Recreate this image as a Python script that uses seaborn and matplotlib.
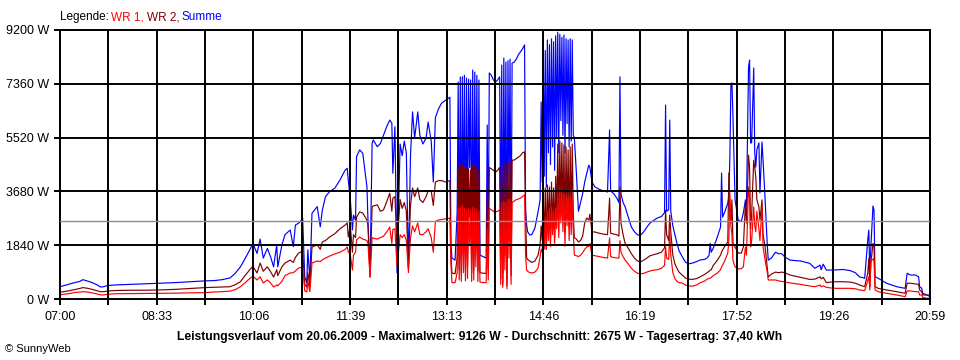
import matplotlib
matplotlib.use("Agg")
import matplotlib.pyplot as plt
import seaborn as sns
import numpy as np
import pandas as pd

# minutes after 07:00
minutes = [
    0, 5, 10, 14, 19, 22, 26, 31, 36, 39,
    42, 46, 53, 68, 82, 96, 111, 125, 140, 149,
    156, 164, 169, 174, 178, 183, 186, 190, 193, 196,
    200, 203, 206, 209, 210, 214, 217, 222, 225, 227,
    230, 233, 234, 236, 238, 239, 241, 243, 248, 251,
    253, 256, 260, 265, 270, 275, 277, 278, 280, 282,
    283, 285, 286, 289, 292, 296, 297, 299, 301, 302,
    306, 309, 312, 315, 318, 320, 321, 323, 325, 328,
    330, 332, 334, 336, 338, 340, 342, 345, 347, 350,
    353, 355, 358, 360, 362, 365, 368, 372, 376, 377,
    378, 381, 383, 384, 385, 386, 387, 388, 389, 390,
    391, 392, 393, 394, 395, 396, 397, 398, 399, 400,
    401, 402, 403, 404, 405, 408, 411, 412, 413, 414,
    416, 418, 420, 422, 424, 425, 426, 427, 428, 429,
    430, 431, 432, 433, 434, 435, 436, 438, 440, 442,
    444, 446, 448, 449, 450, 451, 453, 455, 458, 461,
    463, 464, 465, 466, 467, 468, 469, 470, 471, 472,
    473, 474, 475, 476, 477, 478, 479, 480, 481, 482,
    483, 484, 485, 486, 487, 488, 489, 490, 491, 492,
    493, 494, 495, 496, 498, 500, 502, 504, 506, 508,
    510, 511, 513, 516, 520, 524, 528, 530, 531, 534,
    537, 539, 540, 541, 543, 545, 548, 551, 554, 557,
    560, 563, 566, 569, 573, 576, 580, 583, 584, 585,
    587, 588, 589, 591, 593, 595, 597, 600, 603, 606,
    610, 614, 617, 622, 624, 626, 627, 628, 630, 634,
    637, 638, 639, 641, 644, 645, 646, 647, 648, 649,
    650, 651, 654, 657, 659, 661, 662, 664, 665, 666,
    667, 669, 670, 671, 672, 674, 675, 677, 678, 680,
    682, 683, 686, 690, 693, 696, 699, 704, 714, 723,
    728, 733, 734, 736, 739, 746, 755, 762, 767, 771,
    776, 779, 780, 781, 782, 784, 785, 786, 789, 797,
    807, 815, 817, 820, 825, 828, 829, 831, 832, 836,
    839,
]

summe = [
    420, 470, 520, 560, 600, 660, 620, 560, 480, 410,
    420, 460, 480, 500, 520, 540, 560, 590, 620, 630,
    660, 720, 880, 1100, 1350, 1680, 1900, 1560, 2050, 1400,
    1730, 1450, 1100, 1850, 1100, 1850, 2200, 2360, 1790, 2530,
    2590, 2700, 2770, 760, 550, 1680, 650, 2930, 3160, 2470,
    3040, 3500, 3670, 3790, 4070, 4410, 4470, 4070, 3390, 2360,
    2870, 2700, 4870, 5100, 4980, 3840, 2700, 880, 5320, 5440,
    5210, 5320, 5610, 5890, 6120, 6020, 4300, 5890, 900, 5300,
    4900, 5400, 5000, 1100, 4900, 6400, 5500, 6400, 5600, 5300,
    5500, 6050, 5400, 4000, 6200, 6500, 6700, 6800, 6900, 1900,
    1400, 1330, 2980, 7420, 1500, 7590, 1350, 7600, 2500, 7650,
    1400, 7560, 1600, 7520, 4500, 7490, 1350, 7830, 1450, 7760,
    2800, 7650, 1400, 7490, 1500, 1450, 1400, 5950, 1600, 7730,
    7650, 7490, 7420, 7490, 7600, 1600, 8000, 900, 8240, 2500,
    8100, 700, 8150, 3500, 8200, 1200, 8070, 8100, 8200, 8350,
    8450, 8550, 8690, 3000, 2530, 2300, 2190, 2200, 2430, 2980,
    3390, 6740, 4000, 8760, 4200, 8500, 3830, 8860, 5000, 8700,
    4600, 8900, 5200, 8800, 4400, 9000, 5500, 9126, 5000, 9050,
    6100, 8950, 5600, 9030, 4990, 8900, 6000, 8860, 5200, 8900,
    5400, 8860, 5600, 5510, 4300, 3000, 3300, 3600, 4000, 4300,
    4580, 4500, 4000, 3830, 3750, 3700, 3660, 5780, 3700, 3600,
    3450, 3300, 7600, 3600, 3300, 3150, 2800, 2460, 2300, 2190,
    2190, 2300, 2460, 2600, 2700, 2770, 2820, 2950, 6630, 3000,
    3050, 6120, 3000, 2500, 2200, 1900, 1650, 1450, 1270, 1200,
    1230, 1280, 1330, 1360, 1400, 1500, 1900, 1600, 1740, 2130,
    2460, 4310, 2800, 2970, 3280, 3500, 4860, 7320, 7390, 6220,
    4860, 3390, 2700, 2650, 2940, 3390, 3200, 7930, 8170, 5340,
    5340, 7900, 5000, 4510, 5100, 5340, 3630, 5370, 4750, 3390,
    1900, 1330, 1400, 1600, 1550, 1550, 1440, 1330, 1300, 1220,
    1050, 1160, 1000, 1190, 990, 990, 1010, 970, 900, 760,
    710, 2020, 2360, 760, 1790, 3180, 3040, 760, 710, 540,
    420, 365, 880, 820, 820, 760, 420, 365, 195, 137,
    137,
]

wr2 = [
    230, 260, 290, 320, 360, 390, 370, 330, 280, 250,
    250, 270, 290, 300, 300, 310, 330, 360, 390, 400,
    410, 420, 490, 590, 780, 1000, 1120, 890, 1230, 950,
    1100, 940, 750, 1000, 800, 1100, 1230, 1330, 1250, 1420,
    1570, 1620, 1650, 500, 410, 900, 420, 1780, 1850, 1700,
    1950, 2000, 2120, 2230, 2400, 2530, 2600, 2120, 2500, 1600,
    2200, 2100, 2800, 2980, 2940, 2700, 2500, 750, 3150, 3180,
    3220, 3000, 3050, 3320, 3620, 3000, 3450, 3500, 1900, 3400,
    3100, 3300, 3000, 1100, 3200, 3800, 3500, 3800, 3400, 3300,
    3500, 3700, 3700, 3200, 4000, 4050, 4050, 4000, 4050, 1500,
    890, 860, 1400, 4500, 1000, 4550, 900, 4600, 1500, 4500,
    950, 4450, 1100, 4450, 2800, 4400, 900, 4600, 1000, 4550,
    1700, 4500, 950, 4400, 900, 880, 880, 3500, 1000, 4500,
    4450, 4400, 4340, 4400, 4500, 700, 4600, 500, 4700, 1500,
    4650, 450, 4700, 2000, 4700, 800, 4750, 4750, 4800, 4850,
    4900, 5000, 5030, 2980, 1400, 1350, 1300, 1250, 1300, 1500,
    1850, 2500, 2000, 3500, 1900, 3800, 1700, 3900, 2300, 3830,
    2000, 4000, 2400, 3800, 2100, 4200, 2700, 5300, 2600, 5400,
    2900, 5340, 2800, 5270, 2300, 5200, 2900, 5100, 2500, 5200,
    2700, 5300, 2900, 2100, 2050, 1950, 2000, 2150, 2600, 2770,
    2700, 2900, 2300, 2290, 2250, 2220, 2200, 3450, 2250, 2220,
    2200, 2150, 3830, 2600, 2200, 1900, 1740, 1550, 1400, 1300,
    1270, 1330, 1400, 1480, 1520, 1550, 1600, 1750, 3040, 2200,
    2000, 2870, 2300, 1500, 1200, 1050, 920, 820, 720, 680,
    670, 700, 750, 850, 900, 950, 990, 1000, 1150, 1330,
    1500, 1600, 1680, 1800, 1950, 4310, 3000, 2600, 3390, 1900,
    1850, 1780, 1570, 1570, 1780, 3280, 2600, 4920, 4500, 2400,
    2900, 4750, 4500, 4170, 3400, 3150, 2700, 3390, 2200, 1780,
    1100, 750, 850, 920, 900, 920, 900, 820, 740, 670,
    680, 760, 690, 740, 560, 590, 590, 580, 540, 480,
    420, 890, 1390, 420, 1220, 1900, 1790, 420, 365, 310,
    250, 195, 540, 540, 513, 500, 308, 250, 137, 137,
    80,
]

wr1 = [
    140, 170, 190, 220, 240, 250, 240, 210, 170, 140,
    140, 160, 180, 185, 190, 195, 200, 210, 220, 240,
    250, 270, 320, 420, 540, 700, 780, 650, 760, 550,
    650, 550, 410, 480, 450, 600, 800, 890, 900, 960,
    1060, 1080, 1100, 280, 240, 600, 250, 1230, 1300, 1280,
    1340, 1400, 1470, 1540, 1600, 1700, 1780, 1620, 1500, 990,
    1500, 1600, 2020, 2120, 2050, 2000, 1900, 750, 2100, 2080,
    2050, 2100, 2150, 2290, 2460, 1900, 2380, 2400, 1100, 2200,
    2100, 2200, 2000, 900, 2100, 2500, 2300, 2600, 2200, 2200,
    2300, 2400, 2100, 1600, 2650, 2700, 2720, 2750, 2770, 1200,
    560, 560, 900, 3100, 650, 3150, 600, 3200, 900, 3100,
    620, 3050, 700, 3100, 1900, 3000, 600, 3150, 650, 3100,
    1100, 3050, 600, 3000, 580, 560, 560, 2400, 650, 3100,
    3050, 3000, 2980, 3000, 3050, 500, 3300, 400, 3350, 1000,
    3300, 350, 3400, 1400, 3400, 500, 3300, 3350, 3400, 3420,
    3450, 3500, 3560, 1500, 990, 950, 900, 890, 920, 1050,
    1450, 1700, 1600, 2500, 1700, 2800, 1700, 3000, 2000, 3100,
    1800, 3150, 2200, 3000, 1900, 3100, 2400, 3600, 2100, 3600,
    2600, 3550, 2300, 3600, 1800, 3500, 2500, 3450, 2000, 3500,
    2200, 3500, 2300, 1500, 1480, 1450, 1500, 1580, 1700, 1780,
    1800, 1900, 1500, 1480, 1450, 1420, 1400, 2090, 1450, 1420,
    1400, 1400, 2000, 1600, 1450, 1330, 1200, 1050, 950, 880,
    860, 880, 920, 960, 990, 1000, 1050, 1150, 1790, 1400,
    1350, 2360, 1500, 900, 700, 600, 560, 545, 480, 445,
    440, 480, 550, 620, 680, 700, 720, 730, 800, 890,
    1000, 1100, 1160, 1300, 1570, 2000, 3630, 2500, 2200, 1330,
    1200, 1100, 1030, 1030, 1100, 1780, 1500, 3830, 3500, 1780,
    2000, 3150, 2500, 2300, 3000, 2400, 2000, 3150, 1780, 1330,
    920, 650, 650, 650, 620, 600, 580, 550, 500, 445,
    420, 480, 420, 450, 400, 365, 365, 365, 350, 310,
    285, 650, 760, 310, 1390, 1330, 1390, 310, 250, 195,
    137, 80, 274, 274, 250, 250, 137, 137, 57, 23,
    23,
]

assert len(minutes) == len(summe) == len(wr2) == len(wr1)

time_labels = ["07:00", "08:33", "10:06", "11:39", "13:13",
               "14:46", "16:19", "17:52", "19:26", "20:59"]
y_ticks = [0, 1840, 3680, 5520, 7360, 9200]
average_w = 2675
title_text = ("Leistungsverlauf vom 20.06.2009 - Maximalwert: 9126 W - "
              "Durchschnitt: 2675 W - Tagesertrag: 37,40 kWh")
legend_items = [("Legende:", "#000000"), ("WR 1,", "#ff0000"),
                ("WR 2,", "#800000"), ("Summe", "#0000ff")]

sns.set_theme(style="white")
plt.rcParams['font.family'] = ['Liberation Sans', 'DejaVu Sans']

W, H = 960, 360
fig = plt.figure(figsize=(9.6, 3.6), dpi=100)
fig.patch.set_facecolor("white")
ax = fig.add_axes([60 / W, 1 - 299 / H, 870 / W, 269 / H])

df = pd.DataFrame({"min": minutes, "WR 1": wr1, "WR 2": wr2, "Summe": summe})
long = df.melt(id_vars="min", var_name="serie", value_name="W")
sns.lineplot(data=long, x="min", y="W", hue="serie",
             hue_order=["Summe", "WR 2", "WR 1"],
             palette={"Summe": "#0000ff", "WR 2": "#800000", "WR 1": "#ff0000"},
             estimator=None, sort=False, linewidth=0.85, legend=False, ax=ax)

ax.axhline(average_w, color="#8c8c8c", lw=1.0, zorder=3)

xt = np.linspace(0, 839, 19)
ax.set_xticks(xt)
labels = []
for i in range(19):
    labels.append(time_labels[i // 2] if i % 2 == 0 else "")
ax.set_xticklabels(labels)
ax.set_yticks(y_ticks)
ax.set_yticklabels([f"{v} W" for v in y_ticks])
ax.set_xlim(0, 839)
ax.set_ylim(0, 9200)
ax.set_xlabel("")
ax.set_ylabel("")
ax.set_axisbelow(False)
ax.grid(True, color="black", lw=1.4)
for s in ax.spines.values():
    s.set_color("black")
    s.set_linewidth(1.4)
ax.tick_params(axis="both", which="major", bottom=True, left=True,
               length=4, width=1.4, color="black", direction="out",
               labelsize=9, labelcolor="black")
ax.tick_params(axis="y", pad=4)
ax.tick_params(axis="x", pad=5)

renderer = fig.canvas.get_renderer()
x = 60.0
for txt, col in legend_items:
    t = fig.text(x / W, 1 - 17 / H, txt, color=col, fontsize=8.5,
                 ha="left", va="center")
    bb = t.get_window_extent(renderer)
    x += bb.width + 2.5

fig.text(480 / W, 1 - 337 / H, title_text, ha="center", va="center",
         fontsize=8.75, fontweight="bold", color="black")
fig.text(5 / W, 1 - 349 / H, "\u00a9 SunnyWeb", ha="left", va="center",
         fontsize=8, color="black")

fig.savefig("out.png", dpi=100, facecolor="white")
